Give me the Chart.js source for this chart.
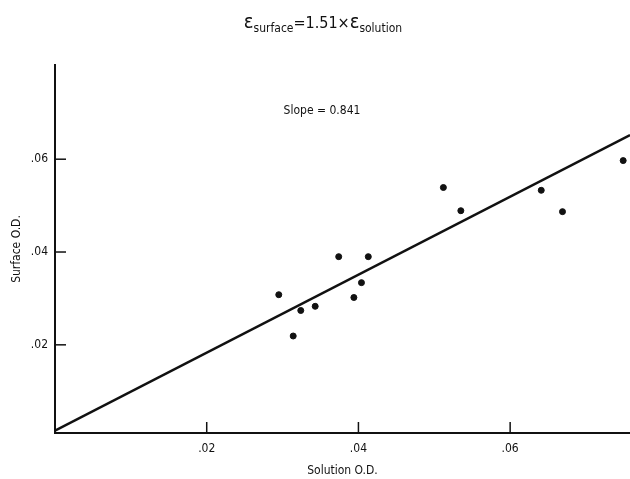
<!DOCTYPE html>
<html>
<head>
<meta charset="utf-8">
<script src="https://cdn.jsdelivr.net/npm/chart.js@4"></script>
<style>
  body { margin: 0; background: #fff; }
  #wrap { width: 630px; height: 479px; position: relative; }
</style>
</head>
<body>
<div id="wrap"><canvas id="odChart"></canvas></div>
<script>
const FONT = '"DejaVu Sans Condensed", "Liberation Sans Narrow", "DejaVu Sans", sans-serif';

// measured points (solution O.D. vs surface O.D.)
const solutionOD = [0.0374, 0.0413, 0.0295, 0.0404, 0.0394, 0.0324, 0.0343, 0.0314, 0.0512, 0.0535, 0.0641, 0.0669, 0.0749];
const surfaceOD = [0.0390, 0.0390, 0.0308, 0.0334, 0.0302, 0.0274, 0.0283, 0.0219, 0.0539, 0.0489, 0.0533, 0.0487, 0.0597];

// fitted line, ends
const fitX = [0, 0.0758];
const fitY = [0.0015, 0.0652];

const xTicks = [0.02, 0.04, 0.06];
const yTicks = [0.02, 0.04, 0.06];
const slopeLabel = "Slope = 0.841";

const fmt = (v) => "." + String(Math.round(v * 100)).padStart(2, "0");

// tick marks drawn on the inside of the axes + title + slope note
const extras = {
  id: "extras",
  afterDraw(chart) {
    const ctx = chart.ctx;
    const xs = chart.scales.x;
    const ys = chart.scales.y;
    const area = chart.chartArea;
    ctx.save();
    ctx.strokeStyle = "#111";
    ctx.lineWidth = 1.5;
    xTicks.forEach((v) => {
      const px = xs.getPixelForValue(v);
      ctx.beginPath();
      ctx.moveTo(px, area.bottom);
      ctx.lineTo(px, area.bottom - 11);
      ctx.stroke();
    });
    yTicks.forEach((v) => {
      const py = ys.getPixelForValue(v);
      ctx.beginPath();
      ctx.moveTo(area.left, py);
      ctx.lineTo(area.left + 11, py);
      ctx.stroke();
    });

    // title: eps_surface = 1.51 x eps_solution
    ctx.fillStyle = "#111";
    ctx.textBaseline = "alphabetic";
    const parts = [
      { t: "ε", f: "20px " + FONT, dy: 0 },
      { t: "surface", f: "12px " + FONT, dy: 4 },
      { t: "=1.51×", f: "16px " + FONT, dy: 0 },
      { t: "ε", f: "20px " + FONT, dy: 0 },
      { t: "solution", f: "12px " + FONT, dy: 4 },
    ];
    let total = 0;
    parts.forEach((p) => {
      ctx.font = p.f;
      p.w = ctx.measureText(p.t).width;
      total += p.w;
    });
    let x = 323 - total / 2;
    parts.forEach((p) => {
      ctx.font = p.f;
      ctx.fillText(p.t, x, 28 + p.dy);
      x += p.w;
    });

    ctx.font = "12px " + FONT;
    ctx.textAlign = "center";
    ctx.textBaseline = "middle";
    ctx.fillText(slopeLabel, 322, 111);
    ctx.restore();
  },
};

new Chart(document.getElementById("odChart"), {
  type: "scatter",
  data: {
    datasets: [
      {
        label: "Data",
        data: solutionOD.map((v, i) => ({ x: v, y: surfaceOD[i] })),
        backgroundColor: "#111",
        borderColor: "#111",
        pointRadius: 3,
      },
      {
        type: "line",
        label: "Fit",
        data: fitX.map((v, i) => ({ x: v, y: fitY[i] })),
        borderColor: "#111",
        borderWidth: 2.5,
        pointRadius: 0,
        fill: false,
      },
    ],
  },
  options: {
    responsive: true,
    maintainAspectRatio: false,
    animation: false,
    layout: { autoPadding: false, padding: { top: 65, right: 0, left: 0, bottom: 0 } },
    plugins: {
      legend: { display: false },
      tooltip: { enabled: false },
    },
    scales: {
      x: {
        type: "linear",
        min: 0,
        max: 0.0758,
        afterBuildTicks: (s) => { s.ticks = xTicks.map((v) => ({ value: v })); },
        afterFit: (s) => { s.height = 46; },
        grid: { drawOnChartArea: false, drawTicks: false },
        border: { display: true, color: "#111", width: 2 },
        ticks: {
          padding: 9,
          color: "#111",
          font: { family: FONT, size: 12 },
          callback: (v) => fmt(v),
        },
        title: {
          display: true,
          text: "Solution O.D.",
          color: "#111",
          font: { family: FONT, size: 12 },
          padding: { top: 0, bottom: 1 },
        },
      },
      y: {
        type: "linear",
        min: 0.001,
        max: 0.0803,
        afterBuildTicks: (s) => { s.ticks = yTicks.map((v) => ({ value: v })); },
        afterFit: (s) => { s.width = 55; },
        grid: { drawOnChartArea: false, drawTicks: false },
        border: { display: true, color: "#111", width: 2 },
        ticks: {
          padding: 7,
          color: "#111",
          font: { family: FONT, size: 12 },
          callback: (v) => fmt(v),
        },
        title: {
          display: true,
          text: "Surface O.D.",
          color: "#111",
          font: { family: FONT, size: 12 },
          padding: { top: 10, bottom: 0 },
        },
      },
    },
  },
  plugins: [extras],
});
</script>
</body>
</html>
